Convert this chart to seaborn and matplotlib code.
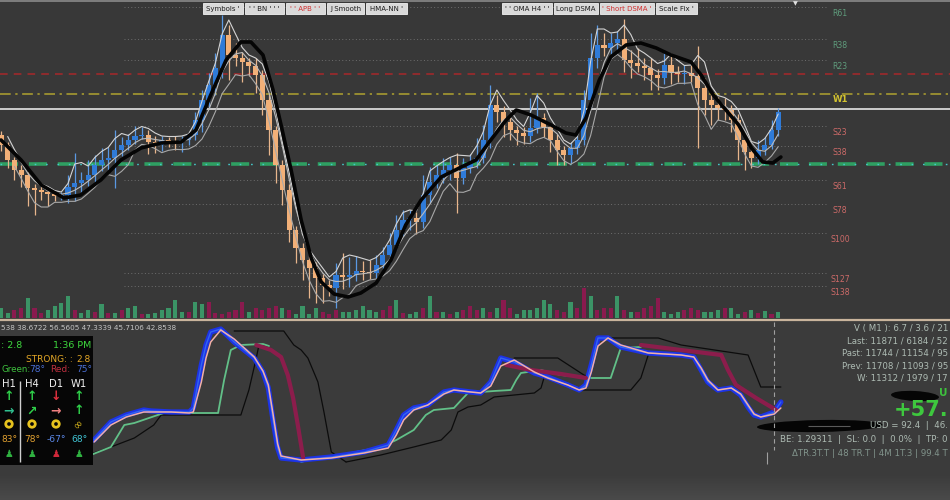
"""
Recreation of an MT4-style price chart with an oscillator sub-panel.
"""

import numpy as np
import pandas as pd
import matplotlib
matplotlib.use("Agg")
import matplotlib.pyplot as plt
from matplotlib.patches import Rectangle, Ellipse
import seaborn as sns

# ---------------- price data (points) ----------------
first_open = 185
close = [175, 160, 150, 145, 132, 130, 128, 126, 124, 125,
         133, 137, 140, 145, 155, 160, 162, 170, 175, 180,
         184, 185, 178, 175, 180, 179, 178, 180, 185, 200,
         220, 235, 252, 285, 265, 262, 258, 254, 245, 220,
         190, 155, 130, 90, 72, 60, 52, 42, 35, 32,
         45, 43, 45, 49, 48, 47, 55, 65, 75, 90,
         100, 102, 98, 125, 138, 145, 150, 155, 142, 152,
         158, 162, 180, 215, 208, 198, 190, 187, 184, 192,
         202, 193, 180, 170, 165, 172, 180, 220, 262, 275,
         272, 277, 281, 260, 257, 254, 252, 245, 242, 255,
         248, 246, 247, 244, 232, 220, 215, 212, 210, 200,
         180, 168, 162, 170, 175, 190, 208]
wick_up = [4, 3, 3, 5, 3, 4, 6, 3, 2, 3,
           12, 30, 8, 15, 10, 12, 11, 20, 8, 6,
           10, 8, 5, 6, 4, 3, 5, 4, 3, 8,
           10, 12, 15, 20, 10, 12, 6, 4, 8, 5,
           6, 4, 5, 6, 4, 5, 4, 6, 4, 5,
           12, 22, 18, 15, 10, 12, 10, 8, 12, 15,
           10, 8, 6, 20, 15, 10, 12, 8, 12, 10,
           8, 20, 15, 20, 10, 6, 8, 4, 6, 30,
           25, 5, 4, 6, 4, 6, 8, 10, 25, 20,
           12, 10, 8, 20, 10, 15, 8, 10, 6, 12,
           10, 6, 8, 8, 30, 10, 6, 8, 10, 5,
           6, 4, 5, 10, 8, 10, 4]
wick_dn = [6, 8, 10, 12, 18, 25, 8, 12, 5, 4,
           8, 14, 10, 6, 8, 6, 10, 30, 6, 5,
           4, 3, 12, 8, 6, 6, 8, 10, 5, 5,
           12, 8, 10, 10, 25, 8, 20, 10, 18, 15,
           25, 18, 15, 12, 15, 20, 30, 25, 18, 8,
           20, 12, 10, 6, 8, 6, 5, 6, 8, 5,
           6, 10, 12, 6, 8, 6, 8, 10, 35, 6,
           5, 6, 5, 8, 10, 15, 10, 12, 8, 6,
           5, 10, 12, 15, 10, 8, 6, 5, 8, 10,
           8, 6, 10, 12, 15, 6, 12, 15, 12, 6,
           12, 8, 10, 6, 60, 15, 20, 12, 10, 12,
           20, 18, 10, 6, 5, 4, 6]

volume = [10, 5, 8, 10, 20, 10, 5, 8, 12, 15,
          22, 8, 5, 8, 6, 14, 5, 5, 8, 10,
          12, 4, 4, 5, 8, 10, 18, 6, 6, 16,
          14, 16, 5, 4, 6, 8, 16, 6, 10, 8,
          10, 12, 10, 8, 4, 12, 4, 10, 6, 4,
          8, 6, 6, 8, 12, 8, 6, 8, 12, 18,
          5, 4, 6, 10, 22, 6, 6, 4, 6, 8,
          12, 8, 10, 6, 10, 18, 10, 4, 8, 8,
          10, 18, 14, 8, 6, 16, 10, 30, 22, 8,
          10, 10, 22, 8, 6, 6, 10, 12, 20, 6,
          4, 6, 8, 10, 8, 6, 6, 8, 10, 10,
          4, 6, 8, 5, 7, 4, 6]
volume_side = list("ggrrgrrggg" "grggrgrgrg" "grggggggrg" "grrrrrrgrr"
                   "rrgrggggrr" "rggggggrrg" "rggrgrgrgr" "rrgrgrrggg"
                   "gggrrgrrgr" "rrgrgrrrrg" "ggrrrgggrg" "grgrgrg")

# smooth black trend line (bar index, price)
trend_x = [0.0, 3.0, 6.0, 9.4, 11.9, 14.9, 17.9, 20.9, 23.9, 26.9, 29.1, 31.3,
           33.6, 35.8, 37.3, 39.1, 40.6, 41.8, 43.3, 44.8, 46.3, 47.8, 49.7,
           51.8, 53.7, 56.0, 58.2, 60.4, 62.7, 65.7, 68.7, 70.9, 73.1, 75.4,
           76.9, 79.1, 82.1, 84.3, 85.8, 87.3, 89.3, 91.0, 93.3, 95.5, 97.8,
           100.0, 103.0, 104.5, 106.3, 108.2, 110.1, 112.0, 113.7, 115.2, 116.4]
trend_y = [180, 160, 135, 122, 125, 140, 160, 172, 177, 178, 190, 225,
           260, 278, 278, 265, 230, 195, 150, 100, 62, 38, 26,
           23, 27, 37, 60, 95, 120, 143, 153, 160, 180, 200,
           210, 205, 195, 187, 185, 202, 240, 263, 275, 277, 272,
           265, 258, 245, 225, 210, 195, 172, 158, 157, 163]

# pivot levels
level_names = ["R61", "R38", "R23", "S23", "S38", "S61", "S78", "S100", "S127", "S138"]
level_values = [313, 281, 260, 194, 174, 140, 116, 87, 47, 34]
red_level = 246
weekly_level = 226
white_level = 211
green_level = 156

# ---------------- oscillator panel ----------------
osc_x = [13.9, 16.4, 18.7, 21.3, 22.4, 25.4, 28.1, 28.7, 29.9, 30.6,
         31.3, 32.8, 34.8, 37.8, 39.1, 39.9, 40.6, 41.3, 41.8, 44.8,
         49.3, 54.2, 57.8, 59.0, 60.1, 61.6, 63.7, 66.1, 67.6, 70.1,
         71.6, 73.1, 74.6, 76.6, 79.6, 81.6, 84.6, 86.3, 87.3, 88.1,
         89.1, 90.6, 92.5, 96.6, 101.5, 103.4, 104.5, 105.5, 107.0, 109.0,
         110.4, 111.6, 112.4, 113.4, 115.4, 116.4]
osc_blue = [30, 48, 55, 60, 59, 58, 58, 62, 105, 125,
            138, 141, 128, 112, 98, 82, 50, 22, 12, 10,
            13, 18, 25, 40, 55, 62, 65, 78, 80, 78,
            77, 88, 112, 108, 97, 93, 85, 80, 85, 105,
            132, 132, 123, 117, 115, 113, 100, 88, 80, 82,
            75, 62, 55, 53, 58, 68]
osc_pink = [28, 45, 53, 58, 58, 58, 57, 58, 88, 112,
            128, 140, 131, 113, 99, 85, 56, 26, 14, 10,
            12, 17, 22, 35, 50, 60, 65, 76, 80, 78,
            77, 84, 104, 110, 98, 92, 85, 80, 82, 98,
            124, 132, 125, 117, 115, 113, 102, 90, 80, 82,
            76, 64, 56, 53, 56, 62]

green_x = [[13.4, 16.4, 18.4, 19.9, 23.4, 24.3, 32.4, 33.3, 34.3, 35.8, 39.1, 40.0],
           [44.8, 46.7, 50.7, 56.7, 59.0, 61.6, 63.4, 64.6, 67.6, 68.7, 69.7, 73.6,
            76.1, 76.9, 77.6, 80.6, 81.6, 83.6, 88.1, 91.0, 92.5, 95.5]]
green_y = [[15, 23, 45, 47, 55, 57, 57, 90, 120, 125, 126, 124],
           [8, 12, 15, 23, 30, 40, 55, 60, 62, 70, 77, 79,
            80, 90, 97, 100, 98, 95, 92, 92, 122, 123]]

maroon_x = [[38.1, 40.3, 41.8, 42.8, 43.6, 44.3, 45.1],
            [75.4, 79.1, 83.6, 87.3],
            [95.5, 101.5, 107.5, 108.5, 109.7, 112.7, 115.7]]
maroon_y = [[125, 120, 113, 95, 72, 45, 12],
            [105, 100, 96, 92],
            [125, 120, 115, 100, 85, 72, 60]]

black_x = [[13.0, 16.4, 19.9, 22.8, 23.9, 35.8, 37.0, 38.1, 38.5],
           [34.8, 42.2, 43.7, 44.8, 45.8, 47.3, 48.2, 49.3, 51.5],
           [51.5, 56.7, 61.6, 65.7, 67.2, 68.2, 69.7, 71.6, 73.6, 79.6, 80.6, 81.3],
           [76.6, 83.1, 87.0, 88.1],
           [86.1, 94.0, 95.5, 96.6],
           [91.0, 98.1, 101.5, 111.5, 113.4, 116.4]]
black_y = [[15, 23, 32, 45, 55, 55, 80, 112, 125],
           [139, 139, 125, 120, 112, 88, 58, 18, 8],
           [8, 15, 23, 30, 40, 58, 63, 65, 73, 77, 82, 98],
           [112, 112, 95, 92],
           [80, 80, 92, 115],
           [132, 132, 125, 115, 83, 83]]

header_values = "538 38.6722 56.5605 47.3339 45.7106 42.8538"
buttons_left = ["Symbols '", "' ' BN ' ' '", "' ' APB ' '", "J Smooth", "HMA-NN '"]
buttons_right = ["' ' OMA H4 ' '", "Long DSMA", "' Short DSMA '", "Scale Fix '"]
info_lines = ["V ( M1 ): 6.7 / 3.6 / 21", "Last: 11871 / 6184 / 52",
              "Past: 11744 / 11154 / 95", "Prev: 11708 / 11093 / 95",
              "W: 11312 / 1979 / 17"]
profit_text = "+57."
usd_text = "USD = 92.4  |  46."
be_text = "BE: 1.29311  |  SL: 0.0  |  0.0%  |  TP: 0"
garbled_text = "ΔTR.3T.T | 48 TR.T | 4M 1T.3 | 99.4 T"

# ---------------- drawing ----------------
sns.set_theme(style="dark")
plt.rcParams["font.family"] = ["DejaVu Sans"]

BG = "#383838"
BG_LOW = "#3b3b3b"
PX = 6.7                      # pixels per bar
X0 = -0.15
X1 = X0 + 950 / PX

fig = plt.figure(figsize=(9.5, 5), dpi=100, facecolor=BG)


def bare(ax, face):
    ax.set_facecolor(face)
    ax.set_xticks([])
    ax.set_yticks([])
    ax.set_xlabel("")
    ax.set_ylabel("")
    for s in ax.spines.values():
        s.set_visible(False)


# main price panel (pixel rows 0..318)
ax = fig.add_axes([0, 182 / 500, 1, 318 / 500])
idx = np.arange(len(close))
c = np.array(close, dtype=float)
o = np.array([first_open] + close[:-1], dtype=float)
hi = np.maximum(o, c) + np.array(wick_up)
lo = np.minimum(o, c) - np.array(wick_dn)
up = c >= o

# horizontal levels
ax.hlines(level_values, 123 / PX, 826 / PX, color="#6e6e6e", lw=0.7, ls=(0, (1, 2.5)), zorder=1)
ax.axhline(red_level, color="#a8282a", lw=1.1, ls=(0, (5, 4)), zorder=1)
ax.axhline(weekly_level, color="#b0a230", lw=1.1, ls=(0, (7, 3, 1.5, 3)), zorder=1)
ax.axhline(white_level, color="#e6e6e6", lw=1.2, zorder=1)
ax.axhline(green_level, color="#2f9f62", lw=2.6, ls=(0, (5, 3)), zorder=1)
ax.axhline(green_level, color="#45c8c8", lw=1.0, ls=(0, (1.2, 7)), zorder=1)

ytr = ax.get_yaxis_transform()
for name, val in zip(level_names, level_values):
    col = "#5f9c7c" if name.startswith("R") else "#cc6a68"
    ax.text(840 / 950, val - 2, name, transform=ytr, ha="center", va="top",
            fontsize=5.6, color=col, zorder=5)
ax.text(840 / 950, weekly_level - 1.5, "W1", transform=ytr, ha="center", va="top",
        fontsize=6.2, color="#d2c230", fontweight="bold", zorder=5)

# candles
wick_cols = np.where(up, "#5a98e2", "#e8b68c")
body_cols = np.where(up, "#2f7bd8", "#f2b078")
ax.vlines(idx, lo, hi, colors=wick_cols, lw=0.9, zorder=3)
ax.bar(idx, np.maximum(np.abs(c - o), 1.3), bottom=np.minimum(o, c), width=0.75,
       color=body_cols, linewidth=0, zorder=4)

# thin moving averages of the candles
cs, hs, ls_ = pd.Series(c), pd.Series(hi), pd.Series(lo)
sns.lineplot(x=idx, y=hs.rolling(2).mean().values, ax=ax, color="#d4d4d4", lw=0.8, zorder=5)
sns.lineplot(x=idx, y=cs.rolling(4).mean().values, ax=ax, color="#bcbcbc", lw=0.8, zorder=5)
sns.lineplot(x=idx, y=ls_.rolling(3).mean().values, ax=ax, color="#a8a8a8", lw=0.8, zorder=5)

# black smooth trend
sns.lineplot(x=trend_x, y=trend_y, ax=ax, color="#050505", lw=2.6, sort=False, zorder=6,
             solid_joinstyle="round", solid_capstyle="round")
ax.set_xlim(X0, X1)
ax.set_ylim(2, 320)
bare(ax, BG)

# volume bars
axv = fig.add_axes([0, 182 / 500, 1, 32 / 500])
sns.barplot(x=idx, y=volume, hue=volume_side, palette={"g": "#3b9466", "r": "#8a1a4e"},
            native_scale=True, dodge=False, width=0.6, errorbar=None, legend=False,
            saturation=1, linewidth=0, edgecolor="none", ax=axv)
axv.set_xlim(X0, X1)
axv.set_ylim(0, 32)
bare(axv, "none")
axv.patch.set_alpha(0)

# oscillator panel (pixel rows 320..500)
axo = fig.add_axes([0, 0, 1, 180 / 500])
grad = np.linspace(0, 1, 50).reshape(-1, 1)
axo.imshow(grad, extent=(X0, X1, -30, -4), aspect="auto", origin="upper",
           cmap=sns.blend_palette(["#3b3b3b", "#4a4a4a"], as_cmap=True), zorder=0)
for xs, ys in zip(black_x, black_y):
    sns.lineplot(x=xs, y=ys, ax=axo, color="#0c0c0c", lw=0.9, sort=False, zorder=2)
for xs, ys in zip(green_x, green_y):
    sns.lineplot(x=xs, y=ys, ax=axo, color="#62c088", lw=1.3, sort=False, zorder=3)
sns.lineplot(x=osc_x, y=osc_blue, ax=axo, color="#1d33e6", lw=3.8, sort=False, zorder=4,
             solid_joinstyle="round")
sns.lineplot(x=osc_x, y=osc_blue, ax=axo, color="#3366f0", lw=1.0, sort=False, zorder=4)
for xs, ys in zip(maroon_x, maroon_y):
    sns.lineplot(x=xs, y=ys, ax=axo, color="#8c1d4c", lw=3.0, sort=False, zorder=5,
                 solid_capstyle="round")
sns.lineplot(x=osc_x, y=osc_pink, ax=axo, color="#f2b0a8", lw=1.1, sort=False, zorder=6)
axo.set_xlim(X0, X1)
axo.set_ylim(-30, 150)
bare(axo, BG_LOW)

# ---------------- overlay in pixel coordinates ----------------
ov = fig.add_axes([0, 0, 1, 1])
ov.set_xlim(0, 950)
ov.set_ylim(500, 0)
ov.set_axis_off()
ov.patch.set_alpha(0)

ov.hlines(1.2, 0, 950, color="#8a8a8a", lw=1.2)
ov.hlines(320, 0, 950, color="#c9b49c", lw=1.6)
ov.text(795, 3.5, "▼", fontsize=4.5, color="#e0e0e0", ha="center", va="center")

# buttons
left_edges = [203, 245, 286, 327, 366]
right_edges = [502, 554, 600, 656]
widths_l = [40, 39, 39, 37, 41]
widths_r = [50, 44, 54, 41]
for labels, xs, ws in [(buttons_left, left_edges, widths_l), (buttons_right, right_edges, widths_r)]:
    for lab, x, w in zip(labels, xs, ws):
        ov.add_patch(Rectangle((x, 3), w, 11, facecolor="#d9d9d9", edgecolor="#f2f2f2", lw=0.6))
        col = "#d23030" if ("APB" in lab or "Short" in lab) else "#1e1e1e"
        ov.text(x + w / 2, 8.7, lab, fontsize=5.0, color=col, ha="center", va="center")

# lower-left header values
ov.text(1, 328, header_values, fontsize=5.2, color="#c4c4c4", ha="left", va="center")

# black info box
ov.add_patch(Rectangle((0, 336), 93, 129, facecolor="#060606", edgecolor="none", zorder=5))
kw = dict(va="center", zorder=6)
ov.text(1, 345, ": 2.8", fontsize=6.8, color="#3ed83e", ha="left", **kw)
ov.text(91, 345, "1:36 PM", fontsize=6.8, color="#3ed83e", ha="right", **kw)
ov.text(26, 359, "STRONG: :", fontsize=6.5, color="#e2a626", ha="left", **kw)
ov.text(91, 359, "2.8", fontsize=6.5, color="#e2a626", ha="right", **kw)
ov.text(1, 370, "Green:", fontsize=6.3, color="#3ec03e", ha="left", **kw)
ov.text(29, 370, "78°", fontsize=6.5, color="#4a6fd6", ha="left", **kw)
ov.text(50, 370, "Red:", fontsize=6.5, color="#c0303f", ha="left", **kw)
ov.text(76, 370, "75°", fontsize=6.5, color="#4a6fd6", ha="left", **kw)
cols_x = [9, 32, 56, 79]
for x, t in zip(cols_x, ["H1", "H4", "D1", "W1"]):
    ov.text(x, 384, t, fontsize=7.2, color="#f0f0f0", ha="center", **kw)
ov.vlines(20, 381, 462, color="#cfcfcf", lw=1.0, zorder=6)
row1 = [("↑", "#2fd04a"), ("↑", "#2fd04a"), ("↓", "#e0303e"), ("↑", "#2fd04a")]
row2 = [("→", "#30c090"), ("↗", "#2fd04a"), ("→", "#f08080"), ("↑", "#2fd04a")]
row4 = [("83°", "#e0a030"), ("78°", "#e0a030"), ("-67°", "#5a86e6"), ("68°", "#40c4d4")]
row5 = ["#2fb040", "#2fb040", "#d0283a", "#2fb040"]
for x, (t, col) in zip(cols_x, row1):
    ov.text(x, 397, t, fontsize=9, color=col, ha="center", fontweight="bold", **kw)
for x, (t, col) in zip(cols_x, row2):
    ov.text(x, 411, t, fontsize=9, color=col, ha="center", fontweight="bold", **kw)
for x in cols_x[:3]:
    ov.scatter(x, 424, s=22, facecolor="none", edgecolor="#e6c21e", lw=2.0, zorder=6)
ov.text(cols_x[3], 424, "∞", fontsize=8, color="#e6c21e", ha="center", rotation=45, **kw)
for x, (t, col) in zip(cols_x, row4):
    ov.text(x, 439, t, fontsize=6.6, color=col, ha="center", **kw)
for x, col in zip(cols_x, row5):
    ov.text(x, 454, "♟", fontsize=7, color=col, ha="center", **kw)

# right-hand info
ov.vlines(774, 322, 450, color="#a0a0a0", lw=0.8, ls=(0, (4, 3)))
ov.vlines(767, 452, 464, color="#a0a0a0", lw=0.8)
info_y = [328, 341, 353, 366, 378]
for t, y in zip(info_lines, info_y):
    ov.text(948, y, t, fontsize=6.2, color="#aebcb4", ha="right", va="center")
ov.add_patch(Ellipse((915, 396), 48, 10, angle=3, facecolor="#050505", edgecolor="none"))
ov.text(948, 393, "U", fontsize=7.5, color="#3ec03e", fontweight="bold", ha="right", va="center")
ov.text(948, 410, profit_text, fontsize=15, color="#3ec83e", fontweight="bold",
        ha="right", va="center")
ov.add_patch(Ellipse((820, 426), 126, 12, angle=-1, facecolor="#050505", edgecolor="none"))
ov.hlines(426, 808, 850, color="#5a5a5a", lw=0.8)
ov.text(948, 426, usd_text, fontsize=6.2, color="#aebcb4", ha="right", va="center")
ov.text(948, 439, be_text, fontsize=6.2, color="#aebcb4", ha="right", va="center")
ov.text(948, 453, garbled_text, fontsize=6.2, color="#8ea49a", ha="right", va="center",
        alpha=0.85)

fig.savefig("out.png", dpi=100, facecolor=BG)
